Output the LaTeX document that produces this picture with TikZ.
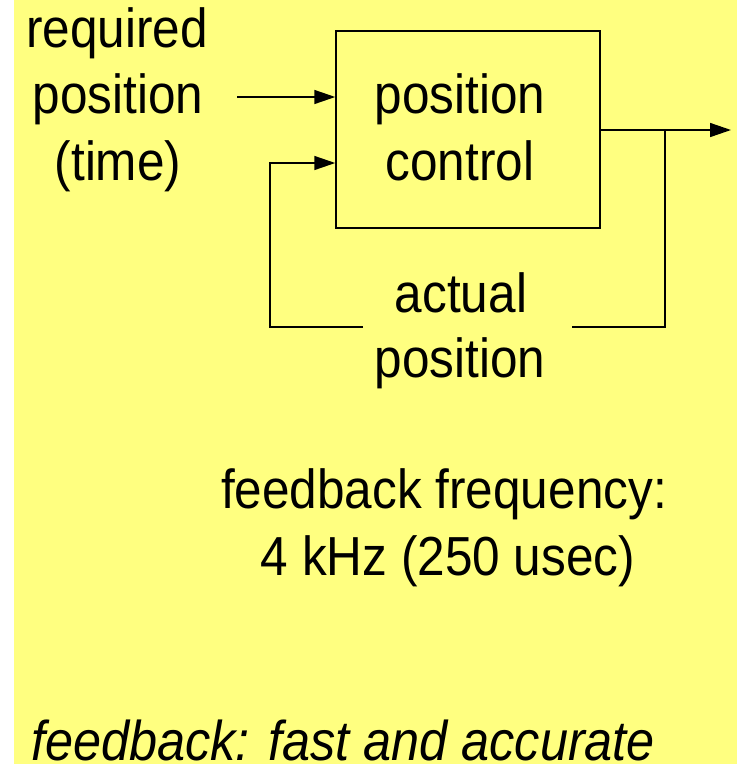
\documentclass[tikz,border=0pt]{standalone}
\usepackage{fontspec}
\setmainfont[FakeStretch=0.9]{Liberation Sans}
\usetikzlibrary{arrows.meta}
\definecolor{bgyellow}{RGB}{255,255,128}
\begin{document}
\begin{tikzpicture}[x=1pt,y=-1pt,
  lbl/.style={anchor=base,inner sep=0pt,font=\fontsize{55}{66}\selectfont},
  ilbl/.style={anchor=base west,inner sep=0pt,font=\fontsize{56}{66}\selectfont\itshape},
  wire/.style={line width=1.5pt,line cap=rect},
  arr/.style={line width=1.5pt,-{Triangle[length=21pt,width=14pt]}},
  blk/.style={draw,line width=1.5pt,minimum width=264pt,minimum height=197pt,inner sep=0pt}]
\useasboundingbox (0,0) rectangle (737,764);
\fill[white] (0,0) rectangle (737,764);
\fill[bgyellow] (14,0) rectangle (737,764);
% block
\node[blk] (box) at (468,129.5) {};
\node[lbl] (bt1) at (460,113) {position};
\node[lbl] (bt2) at (460,180) {control};
% input label
\node[lbl] (r1) at (117,47) {required};
\node[lbl] (r2) at (118,113) {position};
\node[lbl] (r3) at (118,180) {(time)};
% feedback label
\node[lbl] (a1) at (461,312) {actual};
\node[lbl] (a2) at (460,377) {position};
% frequency
\node[lbl] (f1) at (444,508) {feedback frequency:};
\node[lbl] (f2) at (448,575) {4 kHz (250 usec)};
% bottom
\node[ilbl] (bt) at (31,760) {feedback: fast and accurate};
% connectors
\coordinate (in) at (237,97);
\coordinate (out) at (731,130);
\coordinate (j) at (665,130);
\coordinate (fbR) at (573,327);
\coordinate (fbL) at (363,327);
\coordinate (fbc) at (270,163);
\draw[arr] (in) -- (box.west |- in);
\draw[arr] (box.east |- out) -- (out);
\draw[wire] (j) |- (fbR);
\draw[arr] (fbL) -| (fbc) -- (box.west |- fbc);
\end{tikzpicture}
\end{document}
